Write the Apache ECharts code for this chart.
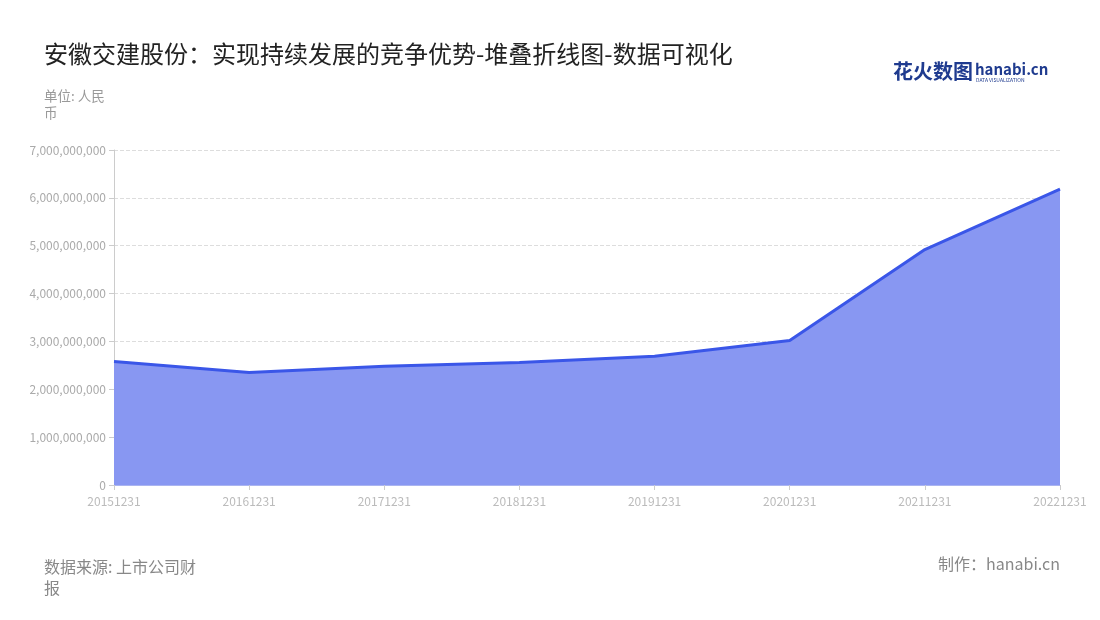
<!DOCTYPE html>
<html><head><meta charset="utf-8">
<script src="https://cdn.jsdelivr.net/npm/echarts@6/dist/echarts.min.js"></script>
<style>html,body{margin:0;padding:0;background:#fff}#c{width:1100px;height:620px}</style>
</head><body><div id="c"></div>
<script>
const categories = ['20151231','20161231','20171231','20181231','20191231','20201231','20211231','20221231'];
const values = [2580000000, 2350000000, 2480000000, 2560000000, 2690000000, 3020000000, 4920000000, 6180000000];
const titleText = '安徽交建股份：实现持续发展的竞争优势-堆叠折线图-数据可视化';
const unitText = '单位: 人民\n币';
const sourceText = '数据来源: 上市公司财\n报';
const makerText = '制作：hanabi.cn';

const FONT = '"Noto Sans CJK SC", "Noto Sans", sans-serif';
const chart = echarts.init(document.getElementById('c'));
chart.setOption({
  backgroundColor: '#fff',
  textStyle: {fontFamily: FONT},
  title: [
    {text: titleText, left: 44, top: 42, padding: 0, textStyle: {fontSize: 24, fontWeight: 'normal', color: '#222', fontFamily: FONT}},
    {text: unitText, left: 44, top: 87, padding: 0, textStyle: {fontSize: 13.5, fontWeight: 'normal', color: '#999', lineHeight: 17.5, fontFamily: FONT}},
    {text: sourceText, left: 44, top: 556, padding: 0, textStyle: {fontSize: 16, fontWeight: 'normal', color: '#888', lineHeight: 21, fontFamily: FONT}},
    {text: makerText, right: 40, top: 556, padding: 0, textStyle: {fontSize: 16, fontWeight: 'normal', color: '#888', fontFamily: FONT}}
  ],
  graphic: [
    {type: 'text', left: 893, top: 61, style: {text: '花火数图', font: 'bold 20px ' + FONT, fill: '#1f3b8f'}},
    {type: 'text', left: 975, top: 62, style: {text: 'hanabi.cn', font: 'bold 15px ' + FONT, fill: '#1f3b8f'}},
    {type: 'text', left: 976, top: 78, style: {text: 'DATA VISUALIZATION', font: '5px ' + FONT, fill: '#1f3b8f'}}
  ],
  grid: {left: 114, right: 40, top: 150, bottom: 135},
  xAxis: {
    type: 'category', data: categories, boundaryGap: false,
    axisLine: {lineStyle: {color: '#aab4f0'}},
    axisTick: {show: true, lineStyle: {color: '#ccc'}},
    axisLabel: {color: '#bbb', fontSize: 12, margin: 10, fontFamily: FONT}
  },
  yAxis: {
    type: 'value', min: 0, max: 7000000000, interval: 1000000000,
    axisLine: {show: true, lineStyle: {color: '#ccc'}},
    axisTick: {show: true, lineStyle: {color: '#ccc'}},
    axisLabel: {color: '#aaa', fontSize: 12, fontFamily: FONT,
      formatter: v => v.toLocaleString('en-US')},
    splitLine: {lineStyle: {color: '#ddd', type: 'dashed'}}
  },
  series: [{
    type: 'line', data: values, stack: 'total', symbol: 'none',
    lineStyle: {color: '#3a56e8', width: 3},
    itemStyle: {color: '#3a56e8'},
    areaStyle: {color: '#8897f2', opacity: 1}
  }]
});
</script></body></html>
